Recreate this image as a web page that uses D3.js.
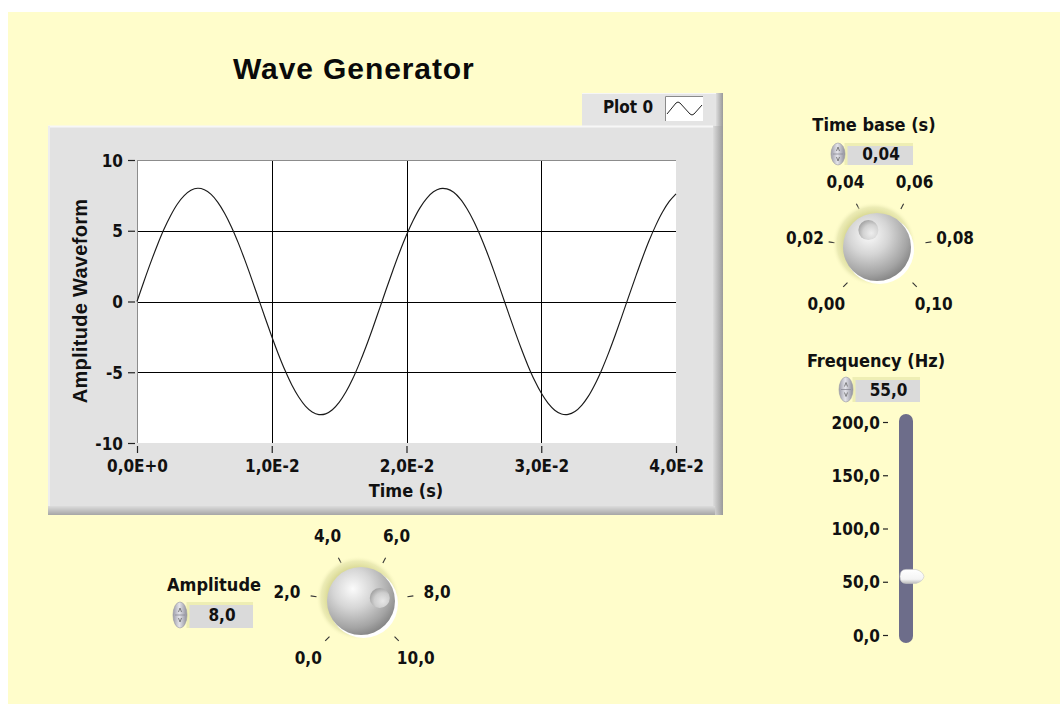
<!DOCTYPE html>
<html><head><meta charset="utf-8">
<script src="https://cdn.jsdelivr.net/npm/d3@7"></script>
<style>body{margin:0;background:#fff;} svg{display:block}</style>
</head><body><svg id="c" width="1060" height="704"></svg>
<script>
// ---------------- DATA ----------------
const waveTimeMs = [0,0.5,1,1.5,2,2.5,3,3.5,4,4.5,5,5.5,6,6.5,7,7.5,8,8.5,9,9.5,10,10.5,11,11.5,12,12.5,13,13.5,14,14.5,15,15.5,16,16.5,17,17.5,18,18.5,19,19.5,20,20.5,21,21.5,22,22.5,23,23.5,24,24.5,25,25.5,26,26.5,27,27.5,28,28.5,29,29.5,30,30.5,31,31.5,32,32.5,33,33.5,34,34.5,35,35.5,36,36.5,37,37.5,38,38.5,39,39.5,40];
const waveAmplitude = [0,1.38,2.71,3.96,5.10,6.08,6.89,7.48,7.86,8.00,7.90,7.57,7.01,6.24,5.29,4.18,2.94,1.62,0.25,-1.13,-2.47,-3.74,-4.90,-5.92,-6.75,-7.39,-7.81,-7.99,-7.94,-7.65,-7.13,-6.40,-5.48,-4.39,-3.18,-1.87,-0.50,0.88,2.23,3.52,4.70,5.74,6.62,7.29,7.75,7.98,7.96,7.72,7.24,6.54,5.66,4.60,3.41,2.11,0.75,-0.63,-1.99,-3.29,-4.50,-5.57,-6.47,-7.18,-7.68,-7.95,-7.98,-7.78,-7.34,-6.69,-5.83,-4.80,-3.63,-2.35,-1.00,0.38,1.74,3.06,4.29,5.38,6.32,7.07,7.61];
const xTickValues = [0, 0.01, 0.02, 0.03, 0.04];
const xTickLabels = ["0,0E+0","1,0E-2","2,0E-2","3,0E-2","4,0E-2"];
const yTickValues = [-10, -5, 0, 5, 10];
const yTickLabels = ["-10","-5","0","5","10"];
const timeBaseTicks = [0, 0.02, 0.04, 0.06, 0.08, 0.10];
const timeBaseLabels = ["0,00","0,02","0,04","0,06","0,08","0,10"];
const amplitudeTicks = [0, 2, 4, 6, 8, 10];
const amplitudeLabels = ["0,0","2,0","4,0","6,0","8,0","10,0"];
const frequencyTicks = [0, 50, 100, 150, 200];
const frequencyLabels = ["0,0","50,0","100,0","150,0","200,0"];
const timeBaseValue = 0.04, timeBaseText = "0,04";
const amplitudeValue = 8, amplitudeText = "8,0";
const frequencyValue = 55, frequencyText = "55,0";
const titleText = "Wave Generator", legendText = "Plot 0";
const xLabel = "Time (s)", yLabel = "Amplitude Waveform";

// ---------------- STYLE ----------------
const LVFONT = "'DejaVu Sans Condensed','DejaVu Sans',sans-serif";
const ARIAL = "'Liberation Sans',Arial,sans-serif";
const svg = d3.select("#c");
const defs = svg.append("defs");

function lin(id, x2, y2, stops){
  const g = defs.append("linearGradient").attr("id", id).attr("x1",0).attr("y1",0).attr("x2",x2).attr("y2",y2);
  stops.forEach(s=>g.append("stop").attr("offset",s[0]).attr("stop-color",s[1]).attr("stop-opacity", s[2]==null?1:s[2]));
}
function rad(id, cx, cy, r, stops){
  const g = defs.append("radialGradient").attr("id", id).attr("cx",cx).attr("cy",cy).attr("r",r);
  stops.forEach(s=>g.append("stop").attr("offset",s[0]).attr("stop-color",s[1]).attr("stop-opacity", s[2]==null?1:s[2]));
}
lin("edgeR",1,0,[["0%","#DCDCDC"],["100%","#9A9A9A"]]);
lin("edgeB",0,1,[["0%","#DCDCDC"],["100%","#A6A6A6"]]);
lin("btnG",1,0,[["0%","#9C9CA8"],["45%","#E4E4EA"],["100%","#8E8E9A"]]);
lin("thumbG",0,1,[["0%","#FFFFFF"],["70%","#F4F4F4"],["100%","#BDBDBD"]]);
rad("sphere","38%","32%","72%",[["0%","#FBFBFB"],["40%","#D6D6D6"],["80%","#A4A4A4"],["100%","#838383"]]);
rad("halo","50%","50%","50%",[["70%","#D6D690",0.95],["88%","#E6E6AE",0.75],["100%","#FFFDCB",0]]);
rad("dimple","65%","65%","70%",[["0%","#EDEDED"],["60%","#CFCFCF"],["100%","#9C9C9C"]]);

// background
svg.append("rect").attr("x",8).attr("y",12).attr("width",1052).attr("height",692).attr("fill","#FFFDCB");

// title
svg.append("text").attr("x",233).attr("y",79).attr("font-family",ARIAL).attr("font-weight","bold")
  .attr("font-size",30).attr("letter-spacing",0.9).attr("fill","#0a0a0a").text(titleText);

// ---------------- GRAPH PANEL ----------------
const panel = svg.append("g");
// legend box
panel.append("rect").attr("x",582).attr("y",93).attr("width",141).attr("height",33).attr("fill","#E4E4E4");
panel.append("rect").attr("x",716).attr("y",93).attr("width",7).attr("height",33).attr("fill","url(#edgeR)");
panel.append("line").attr("x1",582).attr("x2",716).attr("y1",93.5).attr("y2",93.5).attr("stroke","#F6F6F6");
panel.append("text").attr("x",628).attr("y",113).attr("text-anchor","middle").attr("font-family",LVFONT)
  .attr("font-weight","bold").attr("font-size",17).attr("fill","#111").text(legendText);
panel.append("rect").attr("x",665).attr("y",96).attr("width",38).attr("height",25).attr("fill","#fff");
panel.append("path").attr("d","M665.5,121 V96.5 H703").attr("fill","none").attr("stroke","#8A8A8A");
panel.append("path").attr("d","M667,114 L676,103 Q678,101 680,103 L690,114 Q692,116 694,114 L702,105")
  .attr("fill","none").attr("stroke","#222").attr("stroke-width",1);

// main panel
panel.append("rect").attr("x",48).attr("y",126).attr("width",675).attr("height",389).attr("fill","#E2E2E2");
panel.append("rect").attr("x",713).attr("y",126).attr("width",10).attr("height",389).attr("fill","url(#edgeR)");
panel.append("rect").attr("x",48).attr("y",506).attr("width",667).attr("height",9).attr("fill","url(#edgeB)");
panel.append("line").attr("x1",48).attr("x2",713).attr("y1",126.5).attr("y2",126.5).attr("stroke","#F7F7F7").attr("stroke-width",2);
panel.append("line").attr("x1",49).attr("x2",49).attr("y1",126).attr("y2",506).attr("stroke","#EEEEEE").attr("stroke-width",2);

// plot
const x = d3.scaleLinear().domain([0, 0.04]).range([137, 676]);
const y = d3.scaleLinear().domain([-10, 10]).range([443, 160]);
const plot = svg.append("g");
plot.append("rect").attr("x",x(0)).attr("y",y(10)).attr("width",x(0.04)-x(0)).attr("height",y(-10)-y(10)).attr("fill","#fff");
plot.selectAll("line.vg").data(xTickValues.slice(1,-1)).join("line").attr("class","vg")
  .attr("x1",d=>Math.round(x(d))+0.5).attr("x2",d=>Math.round(x(d))+0.5).attr("y1",y(10)).attr("y2",y(-10))
  .attr("stroke","#000").attr("stroke-width",1);
plot.selectAll("line.hg").data(yTickValues.slice(1,-1)).join("line").attr("class","hg")
  .attr("y1",d=>Math.round(y(d))+0.5).attr("y2",d=>Math.round(y(d))+0.5).attr("x1",x(0)).attr("x2",x(0.04))
  .attr("stroke","#000").attr("stroke-width",1);
plot.append("line").attr("x1",x(0)).attr("x2",x(0.04)).attr("y1",y(10)+0.5).attr("y2",y(10)+0.5).attr("stroke","#8C8C8C");
plot.append("line").attr("x1",x(0)+0.5).attr("x2",x(0)+0.5).attr("y1",y(10)).attr("y2",y(-10)).attr("stroke","#8C8C8C");

// wave
const line = d3.line().x((d,i)=>x(waveTimeMs[i]/1000)).y(d=>y(d)).curve(d3.curveCatmullRom);
plot.append("path").datum(waveAmplitude).attr("d",line).attr("fill","none").attr("stroke","#1a1a1a").attr("stroke-width",1.15);

// axes
const yAxis = d3.axisLeft(y).tickValues(yTickValues).tickFormat((d,i)=>yTickLabels[i]).tickSize(7).tickPadding(5);
const gy = svg.append("g").attr("transform","translate(135,0)").call(yAxis);
const xAxis = d3.axisBottom(x).tickValues(xTickValues).tickFormat((d,i)=>xTickLabels[i]).tickSize(7).tickPadding(7);
const gx = svg.append("g").attr("transform","translate(0,446)").call(xAxis);
[gx, gy].forEach(g=>{
  g.select(".domain").remove();
  g.selectAll(".tick line").attr("stroke","#222").attr("stroke-width",1.2);
  g.selectAll(".tick text").attr("font-family",LVFONT).attr("font-weight","bold").attr("font-size",17).attr("fill","#111");
});
gy.selectAll(".tick text").attr("dy","0.36em");

svg.append("text").attr("x",406).attr("y",497).attr("text-anchor","middle").attr("font-family",LVFONT)
  .attr("font-weight","bold").attr("font-size",18).attr("fill","#111").text(xLabel);
svg.append("text").attr("transform","translate(87,301) rotate(-90)").attr("text-anchor","middle")
  .attr("font-family",ARIAL).attr("font-weight","bold").attr("font-size",20).attr("letter-spacing",0.3).attr("fill","#111").text(yLabel);

// ---------------- CONTROLS ----------------
function numeric(bx, by, bw, bh, txt){
  const g = svg.append("g");
  g.append("rect").attr("x",bx).attr("y",by).attr("width",bw).attr("height",bh).attr("fill","#DADADA");
  g.append("path").attr("d",`M${bx+1},${by+bh} V${by+1.5} H${bx+bw}`).attr("fill","none").attr("stroke","#EEEEB4").attr("stroke-width",3);
  g.append("text").attr("x",bx+bw/2+2).attr("y",by+bh/2).attr("dy","0.37em").attr("text-anchor","middle")
    .attr("font-family",LVFONT).attr("font-weight","bold").attr("font-size",17).attr("fill","#111").text(txt);
  const cx = bx-7, cy = by+bh/2;
  g.append("ellipse").attr("cx",cx).attr("cy",cy).attr("rx",7).attr("ry",bh/2).attr("fill","url(#btnG)").attr("stroke","#9a9aa4").attr("stroke-width",0.6);
  g.append("line").attr("x1",cx-5).attr("x2",cx+5).attr("y1",cy).attr("y2",cy).attr("stroke","#8a8a96").attr("stroke-width",0.8);
  g.append("path").attr("d",`M${cx-1.5},${cy-3} L${cx},${cy-7} L${cx+1.5},${cy-3}`).attr("fill","none").attr("stroke","#666").attr("stroke-width",0.8);
  g.append("path").attr("d",`M${cx-1.5},${cy+3} L${cx},${cy+7} L${cx+1.5},${cy+3}`).attr("fill","none").attr("stroke","#666").attr("stroke-width",0.8);
}
function label(xc, yb, txt){
  svg.append("text").attr("x",xc).attr("y",yb).attr("text-anchor","middle").attr("font-family",LVFONT)
    .attr("font-weight","bold").attr("font-size",18).attr("fill","#111").text(txt);
}
function knob(cx, cy, scx, scy, domain, ticks, labels, value){
  const ang = d3.scaleLinear().domain(domain).range([-135, 135]);
  const g = svg.append("g");
  const pt = (a, r)=>[cx + r*Math.sin(a*Math.PI/180), cy - r*Math.cos(a*Math.PI/180)];
  g.selectAll("line.kt").data(ticks).join("line").attr("class","kt")
    .attr("x1",d=>pt(ang(d),46)[0]).attr("y1",d=>pt(ang(d),46)[1])
    .attr("x2",d=>pt(ang(d),52)[0]).attr("y2",d=>pt(ang(d),52)[1])
    .attr("stroke","#333").attr("stroke-width",1.1);
  g.selectAll("text.kl").data(ticks).join("text").attr("class","kl")
    .attr("x",d=>pt(ang(d),76)[0]).attr("y",d=>pt(ang(d),76)[1]).attr("dy","0.36em")
    .attr("text-anchor","middle").attr("font-family",LVFONT).attr("font-weight","bold").attr("font-size",17).attr("fill","#111")
    .text((d,i)=>labels[i]);
  g.append("circle").attr("cx",scx-3).attr("cy",scy-3).attr("r",42).attr("fill","url(#halo)");
  g.append("circle").attr("cx",scx+2.5).attr("cy",scy+2.5).attr("r",34.5).attr("fill","#FFFFFF");
  g.append("circle").attr("cx",scx).attr("cy",scy).attr("r",34).attr("fill","url(#sphere)");
  const a = ang(value)*Math.PI/180;
  g.append("circle").attr("cx",scx+19*Math.sin(a)).attr("cy",scy-19*Math.cos(a)).attr("r",10).attr("fill","url(#dimple)").attr("opacity",0.9);
}

// Time base
label(874, 131, "Time base (s)");
numeric(845, 143, 68, 22, timeBaseText);
knob(880, 250, 877, 247, [timeBaseTicks[0], timeBaseTicks[timeBaseTicks.length-1]], timeBaseTicks, timeBaseLabels, timeBaseValue);

// Amplitude
label(214, 591, "Amplitude");
numeric(187, 602, 66, 26, amplitudeText);
knob(362, 604, 361, 601, [amplitudeTicks[0], amplitudeTicks[amplitudeTicks.length-1]], amplitudeTicks, amplitudeLabels, amplitudeValue);

// Frequency slider
label(876, 367, "Frequency (Hz)");
numeric(853, 377, 67, 25, frequencyText);
const fy = d3.scaleLinear().domain([0, 200]).range([635, 422]);
svg.append("rect").attr("x",899).attr("y",fy(200)-8).attr("width",14).attr("height",fy(0)-fy(200)+16).attr("rx",7).attr("fill","#6D6D8A");
const fAxis = d3.axisLeft(fy).tickValues(frequencyTicks).tickFormat((d,i)=>frequencyLabels[i]).tickSize(5).tickPadding(3);
const gf = svg.append("g").attr("transform","translate(888,0)").call(fAxis);
gf.select(".domain").remove();
gf.selectAll(".tick line").attr("stroke","#222").attr("stroke-width",1.2);
gf.selectAll(".tick text").attr("font-family",LVFONT).attr("font-weight","bold").attr("font-size",17).attr("fill","#111").attr("dy","0.36em");
const ty = fy(frequencyValue);
svg.append("path").attr("d",`M906,${ty-7} H916 Q923,${ty-5} 924,${ty} Q923,${ty+5} 916,${ty+7} H906 Q900,${ty+7} 900,${ty} Q900,${ty-7} 906,${ty-7} Z`)
  .attr("fill","url(#thumbG)").attr("stroke","#C8C8C8").attr("stroke-width",0.6);
</script></body></html>
